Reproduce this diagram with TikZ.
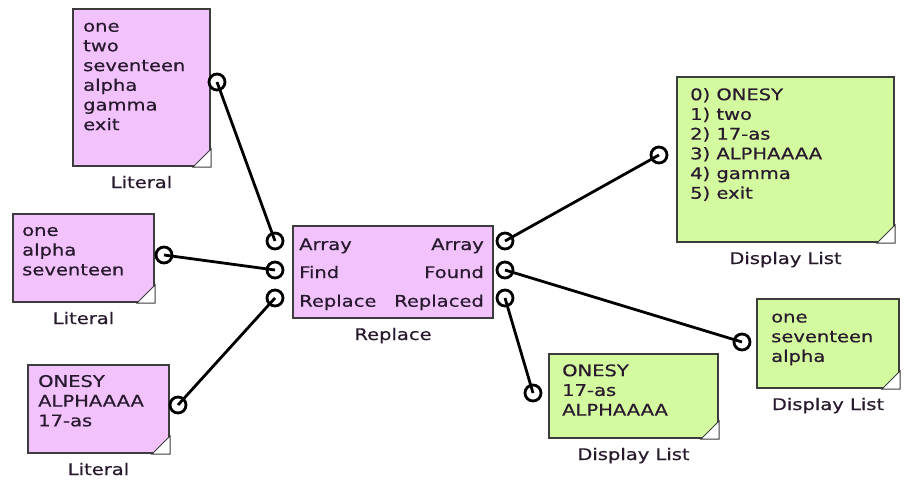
\documentclass[tikz,border=0pt]{standalone}
\usepackage{fontspec}
\newfontfamily\blockfont{DejaVu Sans}[FakeStretch=1.22,FakeBold=0.5]
\definecolor{litpink}{RGB}{242,194,252}
\definecolor{listgreen}{RGB}{212,250,160}
\definecolor{edgegray}{RGB}{60,60,60}
\definecolor{txtcol}{RGB}{40,25,45}
\tikzset{
  block/.style={draw=edgegray, line width=2pt, anchor=north west, inner sep=0pt},
  literal/.style={block, fill=litpink},
  dlist/.style={block, fill=listgreen},
  port/.style={circle, draw=black, line width=2.8pt, fill=white, minimum size=16pt, inner sep=0pt},
  wire/.style={line width=2.8pt, black},
  btext/.style={font=\blockfont\fontsize{16}{19.7}\selectfont, text=txtcol, align=left, inner sep=0pt, anchor=north west},
  ptext/.style={font=\blockfont\fontsize{16}{18}\selectfont, text=txtcol, inner sep=0pt},
  blabel/.style={font=\blockfont\fontsize{16}{18}\selectfont, text=txtcol, inner sep=0pt, anchor=base},
}
\newcommand\foldcorner[1]{\filldraw[fill=white, draw=edgegray, line width=1pt] ([xshift=-18pt]#1.south east) -- (#1.south east) -- ([yshift=18pt]#1.south east) -- cycle;}
\begin{document}
\begin{tikzpicture}[x=1pt,y=-1pt]
\useasboundingbox (0,0) rectangle (904,479);
\node[literal, minimum width=137pt, minimum height=157pt] (lit1) at (72,8) {};
\node[literal, minimum width=141pt, minimum height=88pt] (lit2) at (12,213) {};
\node[literal, minimum width=141pt, minimum height=88pt] (lit3) at (27,364) {};
\node[literal, minimum width=200pt, minimum height=92pt] (rep) at (292,225) {};
\node[dlist, minimum width=217pt, minimum height=165pt] (disp1) at (676,76) {};
\node[dlist, minimum width=169pt, minimum height=84pt] (disp2) at (548,353) {};
\node[dlist, minimum width=142pt, minimum height=89pt] (disp3) at (756,298) {};
\foldcorner{lit1}
\foldcorner{lit2}
\foldcorner{lit3}
\foldcorner{disp1}
\foldcorner{disp2}
\foldcorner{disp3}
\node[btext] (lit1txt) at (83,17.7) {\strut one\\two\\seventeen\\alpha\\gamma\\exit};
\node[btext] (lit2txt) at (22,221.9) {\strut one\\alpha\\seventeen};
\node[btext] (lit3txt) at (38,372.9) {\strut ONESY\\ALPHAAAA\\17-as};
\node[btext] (disp1txt) at (690,86.2) {\strut 0) ONESY\\1) two\\2) 17-as\\3) ALPHAAAA\\4) gamma\\5) exit};
\node[btext] (disp2txt) at (562,362.2) {\strut ONESY\\17-as\\ALPHAAAA};
\node[btext] (disp3txt) at (771,308.5) {\strut one\\seventeen\\alpha};
\node[ptext, anchor=base west] (inarray) at (299,250) {Array};
\node[ptext, anchor=base west] (infind) at (299,278) {Find};
\node[ptext, anchor=base west] (inrepl) at (299,306.7) {Replace};
\node[ptext, anchor=base east] (outarray) at (484,250) {Array};
\node[ptext, anchor=base east] (outfound) at (484,278) {Found};
\node[ptext, anchor=base east] (outrepl) at (484,306.7) {Replaced};
\node[blabel] (lit1lbl) at ([yshift=-21pt]lit1.south) {Literal};
\node[blabel] (lit2lbl) at ([yshift=-21pt]lit2.south) {Literal};
\node[blabel] (lit3lbl) at ([yshift=-21pt]lit3.south) {Literal};
\node[blabel] (replbl) at ([yshift=-21pt]rep.south) {Replace};
\node[blabel] (disp1lbl) at ([yshift=-21pt]disp1.south) {Display List};
\node[blabel] (disp2lbl) at ([yshift=-21pt]disp2.south) {Display List};
\node[blabel] (disp3lbl) at ([yshift=-21pt]disp3.south) {Display List};
\node[port] (lit1out) at (217,82) {};
\node[port] (lit2out) at (164,255) {};
\node[port] (lit3out) at (178,405) {};
\node[port] (repin1) at (275,241) {};
\node[port] (repin2) at (275,270) {};
\node[port] (repin3) at (275,298) {};
\node[port] (repout1) at (505,241) {};
\node[port] (repout2) at (505,270) {};
\node[port] (repout3) at (505,298) {};
\node[port] (disp1in) at (659,155) {};
\node[port] (disp2in) at (533,393) {};
\node[port] (disp3in) at (742,342) {};
\draw[wire] (lit1out.center) -- (repin1.center);
\draw[wire] (lit2out.center) -- (repin2.center);
\draw[wire] (lit3out.center) -- (repin3.center);
\draw[wire] (repout1.center) -- (disp1in.center);
\draw[wire] (repout2.center) -- (disp3in.center);
\draw[wire] (repout3.center) -- (disp2in.center);
\end{tikzpicture}
\end{document}
